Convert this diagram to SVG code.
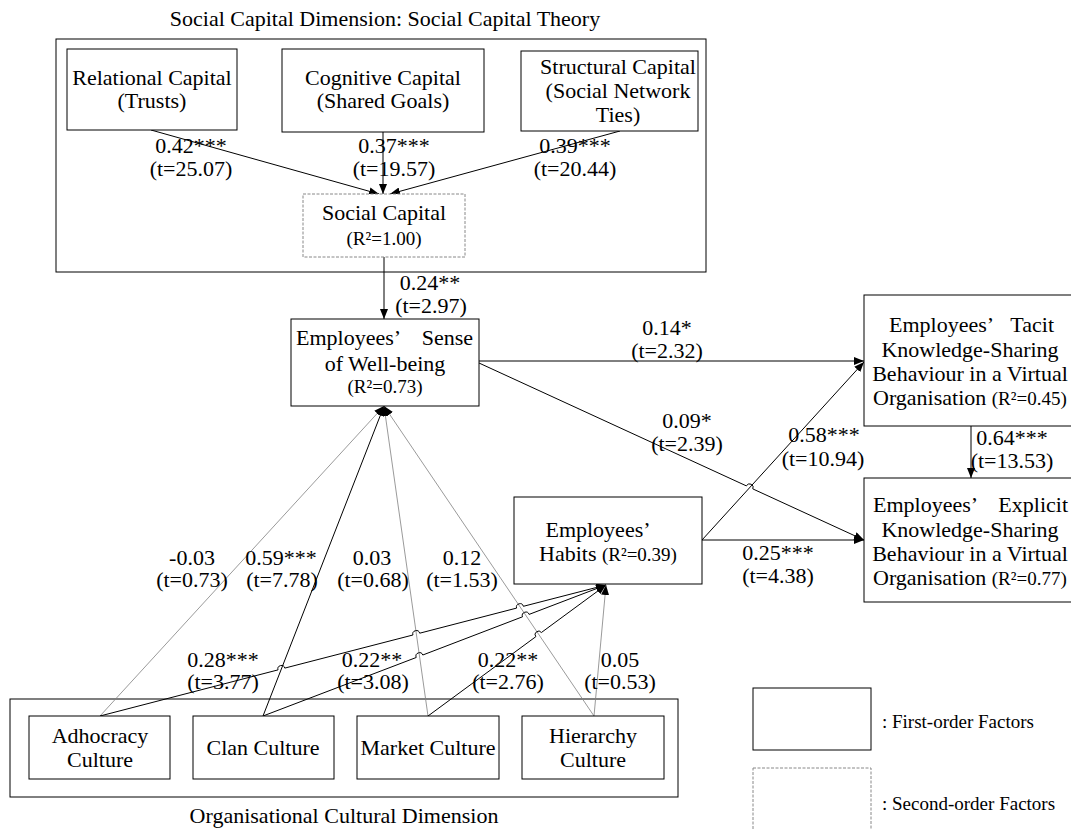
<svg xmlns="http://www.w3.org/2000/svg" width="1071" height="829" viewBox="0 0 1071 829">
<defs>
<marker id="ah" viewBox="0 0 10 8" refX="10" refY="4" markerWidth="10" markerHeight="8" markerUnits="userSpaceOnUse" orient="auto"><path d="M0,0 L10,4 L0,8 z" fill="#000"/></marker>
<style>
text{font-family:"Liberation Serif","Times New Roman",serif;font-size:22px;fill:#000}
.c{text-anchor:middle}
.e{text-anchor:end}
.s{font-size:19px}
.box{fill:#fff;stroke:#000;stroke-width:1}
.grp{fill:none;stroke:#000;stroke-width:1}
.dash{fill:#fff;stroke:#888;stroke-width:1;stroke-dasharray:3,1.5}
.ln{fill:none;stroke:#000;stroke-width:1}
.gl{fill:none;stroke:#808080;stroke-width:0.8}
</style>
</defs>
<rect width="1071" height="829" fill="#fff"/>

<g id="social-capital-dimension">
<rect class="grp" x="56" y="39" width="650" height="233"/>
<text class="c" x="385" y="26">Social Capital Dimension: Social Capital Theory</text>
</g>
<g id="org-culture-dimension">
<rect class="grp" x="10" y="699" width="668" height="98"/>
<text class="c" x="344" y="823">Organisational Cultural Dimension</text>
</g>

<g id="connectors">
<line class="ln" x1="151" y1="130" x2="379" y2="194" marker-end="url(#ah)"/>
<line class="ln" x1="383" y1="132" x2="383" y2="194" marker-end="url(#ah)"/>
<line class="ln" x1="620" y1="131" x2="390" y2="194" marker-end="url(#ah)"/>
<line class="ln" x1="384" y1="257" x2="384" y2="319" marker-end="url(#ah)"/>
<line class="ln" x1="479" y1="361" x2="864" y2="361" marker-end="url(#ah)"/>
<path class="ln" d="M479,363 L746.4,485.9 A3.5,3.5 0 0 1 752.8,488.9 L864,540" marker-end="url(#ah)"/>
<line class="ln" x1="702" y1="540" x2="864" y2="362" marker-end="url(#ah)"/>
<line class="ln" x1="702" y1="540" x2="864" y2="540" marker-end="url(#ah)"/>
<line class="ln" x1="971" y1="426" x2="971" y2="478" marker-end="url(#ah)"/>
<line class="gl" x1="100" y1="716" x2="384" y2="406" marker-end="url(#ah)"/>
<line class="ln" x1="263" y1="716" x2="384" y2="406" marker-end="url(#ah)"/>
<line class="gl" x1="428" y1="716" x2="384" y2="406" marker-end="url(#ah)"/>
<line class="gl" x1="594" y1="716" x2="384" y2="406" marker-end="url(#ah)"/>
<path class="ln" d="M100,716 L278,669.9 A3.5,3.5 0 0 1 284.8,668.1 L412.9,635 A3.5,3.5 0 0 1 419.7,633.2 L516.6,608.1 A3.5,3.5 0 0 1 523.4,606.3 L606,585" marker-end="url(#ah)"/>
<path class="ln" d="M263,716 L416.2,657.5 A3.5,3.5 0 0 1 422.8,655 L522.5,616.8 A3.5,3.5 0 0 1 529.1,614.4 L606,585" marker-end="url(#ah)"/>
<path class="ln" d="M428,716 L535.8,636.7 A3.5,3.5 0 0 1 541.4,632.5 L606,585" marker-end="url(#ah)"/>
<line class="gl" x1="594" y1="716" x2="606" y2="585" marker-end="url(#ah)"/>
</g>

<g id="edge-labels">
<text class="c" x="191" y="153">0.42***</text>
<text class="c" x="191" y="176">(t=25.07)</text>
<text class="c" x="394" y="153">0.37***</text>
<text class="c" x="394" y="176">(t=19.57)</text>
<text class="c" x="575" y="153">0.39***</text>
<text class="c" x="575" y="176">(t=20.44)</text>
<text class="c" x="430" y="290">0.24**</text>
<text class="c" x="431" y="313">(t=2.97)</text>
<text class="c" x="667" y="335">0.14*</text>
<text class="c" x="667" y="358">(t=2.32)</text>
<text class="c" x="687" y="428">0.09*</text>
<text class="c" x="687" y="451">(t=2.39)</text>
<text class="c" x="824" y="442">0.58***</text>
<text class="c" x="823" y="466">(t=10.94)</text>
<text class="c" x="778" y="560">0.25***</text>
<text class="c" x="778" y="583">(t=4.38)</text>
<text class="c" x="1012" y="445">0.64***</text>
<text class="c" x="1012" y="468">(t=13.53)</text>
<text class="c" x="192" y="565">-0.03</text>
<text class="c" x="192" y="587">(t=0.73)</text>
<text class="c" x="281" y="565">0.59***</text>
<text class="c" x="282" y="587">(t=7.78)</text>
<text class="c" x="372" y="565">0.03</text>
<text class="c" x="373" y="587">(t=0.68)</text>
<text class="c" x="462" y="565">0.12</text>
<text class="c" x="462" y="587">(t=1.53)</text>
<text class="c" x="223" y="667">0.28***</text>
<text class="c" x="223" y="689">(t=3.77)</text>
<text class="c" x="372" y="667">0.22**</text>
<text class="c" x="373" y="689">(t=3.08)</text>
<text class="c" x="508" y="667">0.22**</text>
<text class="c" x="508" y="689">(t=2.76)</text>
<text class="c" x="620" y="667">0.05</text>
<text class="c" x="620" y="689">(t=0.53)</text>
</g>

<g id="relational-capital">
<rect class="box" x="67" y="49" width="170" height="81"/>
<text class="c" x="152" y="85">Relational Capital</text>
<text class="c" x="152" y="108">(Trusts)</text>
</g>
<g id="cognitive-capital">
<rect class="box" x="282" y="49" width="202" height="83"/>
<text class="c" x="383" y="85">Cognitive Capital</text>
<text class="c" x="383" y="108">(Shared Goals)</text>
</g>
<g id="structural-capital">
<rect class="box" x="521" y="51" width="177" height="80"/>
<text class="c" x="618" y="74">Structural Capital</text>
<text class="c" x="618" y="98">(Social Network</text>
<text class="c" x="618" y="122">Ties)</text>
</g>
<g id="social-capital">
<rect class="dash" x="303" y="194" width="162" height="63"/>
<text class="c" x="384" y="220">Social Capital</text>
<text class="c s" x="384" y="245">(R²=1.00)</text>
</g>
<g id="well-being">
<rect class="box" x="291" y="319" width="188" height="87"/>
<text x="296" y="345">Employees’</text>
<text class="e" x="473" y="345">Sense</text>
<text class="c" x="385" y="371">of Well-being</text>
<text class="c s" x="385" y="393">(R²=0.73)</text>
</g>
<g id="tacit-ksb">
<rect class="box" x="864" y="295" width="220" height="131"/>
<text x="889" y="332">Employees’</text>
<text class="e" x="1054" y="332">Tacit</text>
<text class="c" x="970" y="357">Knowledge-Sharing</text>
<text class="c" x="970" y="381">Behaviour in a Virtual</text>
<text x="873" y="405">Organisation <tspan class="s">(R²=0.45)</tspan></text>
</g>
<g id="explicit-ksb">
<rect class="box" x="864" y="478" width="220" height="124"/>
<text x="873" y="512">Employees’</text>
<text class="e" x="1068" y="512">Explicit</text>
<text class="c" x="970" y="537">Knowledge-Sharing</text>
<text class="c" x="970" y="561">Behaviour in a Virtual</text>
<text x="873" y="585">Organisation <tspan class="s">(R²=0.77)</tspan></text>
</g>
<g id="habits">
<rect class="box" x="514" y="497" width="188" height="87"/>
<text class="c" x="598" y="537">Employees’</text>
<text x="539" y="561">Habits <tspan class="s">(R²=0.39)</tspan></text>
</g>
<g id="adhocracy">
<rect class="box" x="29" y="716" width="141" height="63"/>
<text class="c" x="100" y="743">Adhocracy</text>
<text class="c" x="100" y="767">Culture</text>
</g>
<g id="clan">
<rect class="box" x="193" y="716" width="141" height="63"/>
<text class="c" x="263" y="755">Clan Culture</text>
</g>
<g id="market">
<rect class="box" x="357" y="716" width="142" height="63"/>
<text class="c" x="428" y="755">Market Culture</text>
</g>
<g id="hierarchy">
<rect class="box" x="522" y="716" width="142" height="63"/>
<text class="c" x="593" y="743">Hierarchy</text>
<text class="c" x="593" y="767">Culture</text>
</g>
<g id="legend">
<rect class="box" x="753" y="688" width="118" height="62"/>
<text class="s" x="882" y="728">: First-order Factors</text>
<rect class="dash" x="753" y="768" width="118" height="70"/>
<text class="s" x="882" y="810">: Second-order Factors</text>
</g>
</svg>
